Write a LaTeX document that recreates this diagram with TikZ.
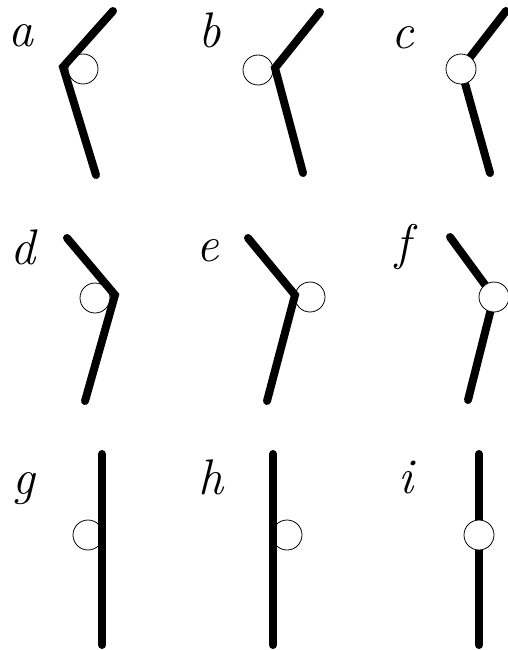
\documentclass[tikz,border=0pt]{standalone}

\begin{document}
\begin{tikzpicture}[
    x=1pt, y=-1pt,
    limb/.style={line width=8pt, line cap=round},
    hub/.style={circle, draw, line width=0.8pt, fill=white, minimum size=30pt, inner sep=0pt},
    tag/.style={font=\fontsize{50}{55}\selectfont\itshape, inner sep=0pt}
]
\useasboundingbox (0,0) rectangle (508,650);

% row 1: bent upward
\coordinate (a-top) at (113,11);
\coordinate (a-joint) at (63,67);
\coordinate (a-bot) at (96,175);
\coordinate (b-top) at (320,12);
\coordinate (b-joint) at (275,68);
\coordinate (b-bot) at (303,173);
\coordinate (c-top) at (506,11);
\coordinate (c-joint) at (461,69);
\coordinate (c-bot) at (490,173);

% row 2: bent downward
\coordinate (d-top) at (67,238);
\coordinate (d-joint) at (115,295);
\coordinate (d-bot) at (85,401);
\coordinate (e-top) at (248,238);
\coordinate (e-joint) at (295,295);
\coordinate (e-bot) at (267,401);
\coordinate (f-top) at (450,237);
\coordinate (f-joint) at (494,297);
\coordinate (f-bot) at (468,400);

% row 3: straight
\coordinate (g-top) at (102,454);
\coordinate (g-bot) at (102,645);
\coordinate (h-top) at (273,454);
\coordinate (h-bot) at (273,645);
\coordinate (i-top) at (479,454);
\coordinate (i-bot) at (479,645);

\node[tag] (a) at (21,36) {a};
\node[tag] (b) at (210,30) {b};
\node[tag] (c) at (403,38) {c};
\node[tag] (d) at (23,247) {d};
\node[tag] (e) at (208,251) {e};
\node[tag] (f) at (403,247) {f};
\node[tag] (g) at (24,489) {g};
\node[tag] (h) at (211,477) {h};
\node[tag] (i) at (406,477) {i};

% hubs beside the limb
\node[hub] (a-hub) at (83,69) {};
\node[hub] (b-hub) at (258,70) {};
\node[hub] (d-hub) at (95,298) {};
\node[hub] (e-hub) at (310,297) {};
\node[hub] (g-hub) at (88,535) {};
\node[hub] (h-hub) at (287,535) {};

\draw[limb] (a-top) -- (a-joint) -- (a-bot);
\draw[limb] (b-top) -- (b-joint) -- (b-bot);
\draw[limb] (c-top) -- (c-joint) -- (c-bot);
\draw[limb] (d-top) -- (d-joint) -- (d-bot);
\draw[limb] (e-top) -- (e-joint) -- (e-bot);
\draw[limb] (f-top) -- (f-joint) -- (f-bot);
\draw[limb] (g-top) -- (g-bot);
\draw[limb] (h-top) -- (h-bot);
\draw[limb] (i-top) -- (i-bot);

% hubs on the limb
\node[hub] (c-hub) at (c-joint) {};
\node[hub] (f-hub) at (f-joint) {};
\node[hub] (i-hub) at (479,535) {};
\end{tikzpicture}
\end{document}
